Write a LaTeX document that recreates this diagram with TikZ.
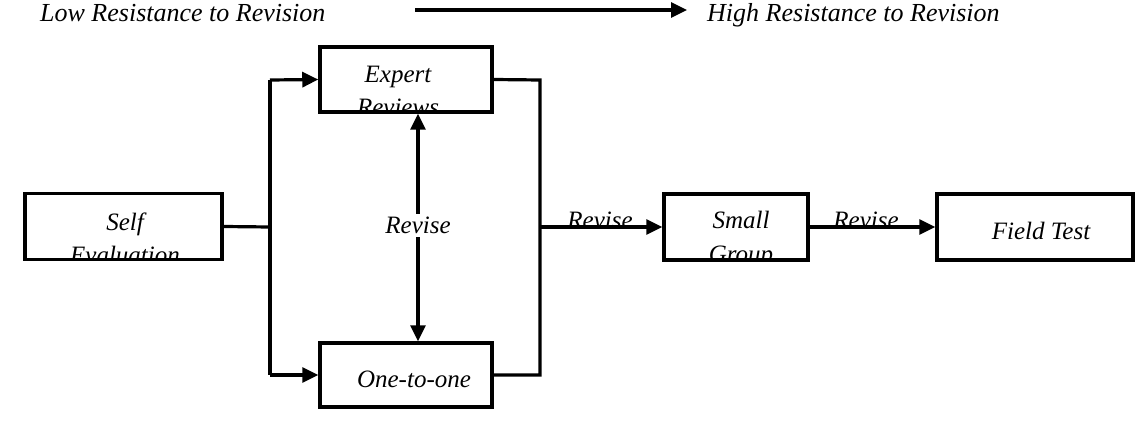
\documentclass[tikz,border=0pt]{standalone}
\usepackage{fontspec}
\setmainfont{Liberation Serif}
\usetikzlibrary{arrows.meta}
\begin{document}
\begin{tikzpicture}[x=1pt,y=-1pt,
  stagebox/.style={draw,line width=3.5pt,minimum width=#1,minimum height=66pt,inner sep=0pt},
  conn/.style={line width=3.2pt},
  arr/.style={line width=3.2pt,-{Triangle[length=16pt,width=15pt]}},
  darr/.style={line width=3.2pt,{Triangle[length=16pt,width=15pt]}-{Triangle[length=16pt,width=15pt]}},
  lbl/.style={font=\fontsize{25}{33}\selectfont\itshape,inner sep=0pt,align=center,anchor=base},
  toplbl/.style={font=\fontsize{26}{30}\selectfont\itshape,inner sep=0pt,anchor=base west}]
\useasboundingbox (0,0) rectangle (1145,446);
% header
\node[toplbl] (low) at (40,22) {Low Resistance to Revision};
\node[toplbl] (high) at (707,22) {High Resistance to Revision};
\coordinate (ta) at (415,10);
\coordinate (tb) at (687,10);
\draw[arr] (ta) -- (tb);
% boxes
\node[stagebox=197pt] (self) at (123.5,226.5) {};
\node[stagebox=172pt,minimum height=65pt] (expert) at (406,79.5) {};
\node[stagebox=172pt,minimum height=64pt] (one) at (406,375) {};
\node[stagebox=144pt] (small) at (736,227) {};
\node[stagebox=196pt] (field) at (1035,227) {};
% clipped texts
\begin{scope}
\clip ([shift={(1.75,1.75)}]self.north west) rectangle ([shift={(-1.75,-1.75)}]self.south east);
\node[lbl] (selft) at (125,264) {Self\\Evaluation};
\end{scope}
\begin{scope}
\clip ([shift={(1.75,1.75)}]expert.north west) rectangle ([shift={(-1.75,-1.75)}]expert.south east);
\node[lbl] (expertt) at (398,116) {Expert\\Reviews};
\end{scope}
\begin{scope}
\clip ([shift={(1.75,1.75)}]small.north west) rectangle ([shift={(-1.75,-1.75)}]small.south east);
\node[lbl] (smallt) at (741,262) {Small\\Group};
\end{scope}
\node[lbl] (onet) at (414,387) {One-to-one};
\node[lbl] (fieldt) at (1041,240) {Field Test};
% connectors
\coordinate (jl) at (270,227);
\coordinate (jlt) at (270,80);
\coordinate (jlb) at (270,375);
\coordinate (jr) at (540,227);
\coordinate (jrt) at (540,80);
\coordinate (jrb) at (540,375);
\draw[conn] (self.east) -- (jl);
\draw[conn] (jlt) -- (jlb);
\draw[arr] (jlt) -- (expert.west);
\draw[arr] (jlb) -- (one.west);
\draw[conn] (expert.east) -- (jrt) -- (jrb) -- (one.east);
\draw[darr] ([xshift=12pt]expert.south) -- node[lbl,fill=white,anchor=center,inner sep=3pt,yshift=2pt] (rev0) {Revise} ([xshift=12pt]one.north);
\node[lbl] (rev1) at (600,229) {Revise};
\draw[arr] (jr) -- (small.west);
\node[lbl] (rev2) at (866,229) {Revise};
\draw[arr] (small.east) -- (field.west);
\end{tikzpicture}
\end{document}
